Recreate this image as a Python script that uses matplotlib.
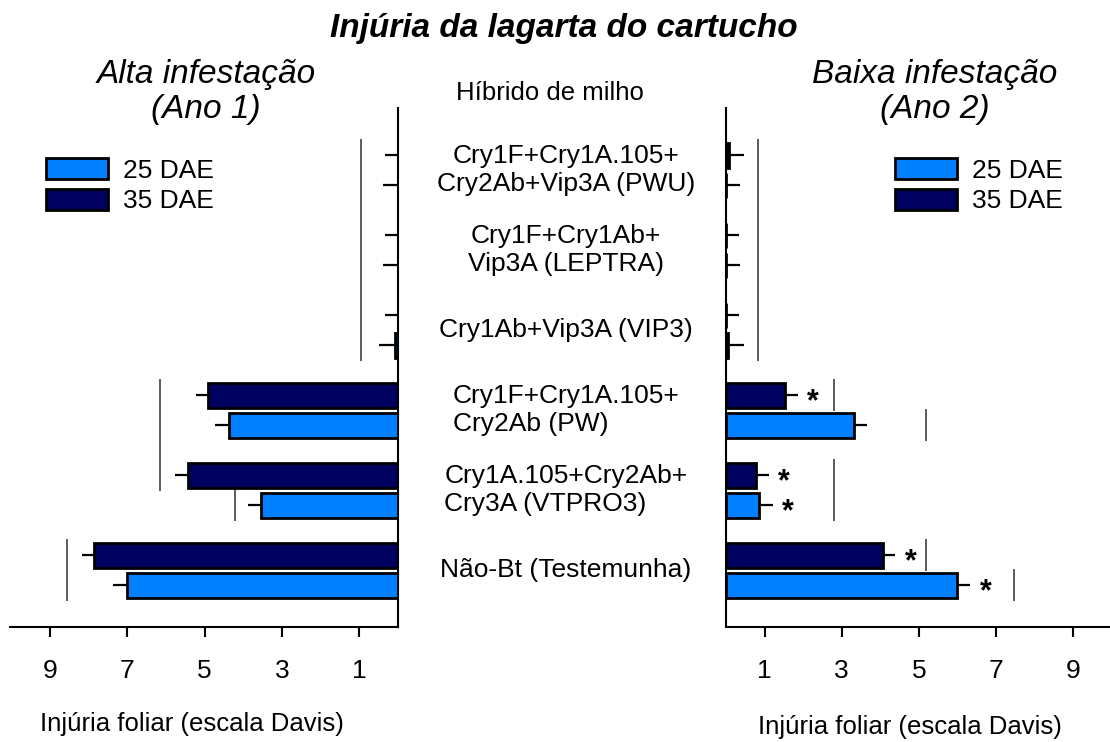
import matplotlib
matplotlib.use("Agg")
import matplotlib.pyplot as plt
import matplotlib.transforms as mtransforms
from matplotlib.patches import Patch

plt.rcParams['font.family'] = ['Liberation Sans', 'DejaVu Sans']

# categories, top to bottom
hybrids = ["PWU", "LEPTRA", "VIP3", "PW", "VTPRO3", "Não-Bt"]
hybrid_labels = [
    "Cry1F+Cry1A.105+\nCry2Ab+Vip3A (PWU)",
    "Cry1F+Cry1Ab+\nVip3A (LEPTRA)",
    "Cry1Ab+Vip3A (VIP3)",
    "Cry1F+Cry1A.105+\nCry2Ab (PW)",
    "Cry1A.105+Cry2Ab+\nCry3A (VTPRO3)",
    "Não-Bt (Testemunha)",
]
label_align = ["center", "center", "center", "left", "left", "center"]

# Ano 1 - alta infestacao
ano1_25 = [0.0, 0.0, 0.08, 4.37, 3.54, 7.01]
ano1_25_err = [0.39, 0.39, 0.42, 0.37, 0.35, 0.36]
ano1_35 = [0.0, 0.0, 0.0, 4.92, 5.43, 7.86]
ano1_35_err = [0.34, 0.34, 0.34, 0.31, 0.33, 0.32]

# Ano 2 - baixa infestacao
ano2_25 = [0.0, 0.0, 0.05, 3.31, 0.85, 5.98]
ano2_25_err = [0.36, 0.36, 0.42, 0.35, 0.36, 0.35]
ano2_35 = [0.07, 0.0, 0.0, 1.54, 0.78, 4.07]
ano2_35_err = [0.40, 0.34, 0.34, 0.32, 0.33, 0.32]
ano2_25_sig = [False, False, False, False, True, True]
ano2_35_sig = [False, False, False, True, True, True]

# DMS lines: value, first bar, last bar
dms1_val = [0.96, 6.15, 4.21, 8.56]
dms1_from = ["PWU 35", "PW 35", "VTPRO3 25", "Não-Bt 35"]
dms1_to = ["VIP3 25", "VTPRO3 35", "VTPRO3 25", "Não-Bt 25"]
dms2_val = [0.84, 2.79, 5.17, 2.79, 5.17, 7.46]
dms2_from = ["PWU 35", "PW 35", "PW 25", "VTPRO3 35", "Não-Bt 35", "Não-Bt 25"]
dms2_to = ["VIP3 25", "PW 35", "PW 25", "VTPRO3 25", "Não-Bt 35", "Não-Bt 25"]

xticks = [1, 3, 5, 7, 9]

c25 = "#0080ff"
c35 = "#000060"
off = 0.1875
bh = 0.3125

n = len(hybrids)
ypos = [n - 1 - i for i in range(n)]
y25 = [y - off for y in ypos]
y35 = [y + off for y in ypos]
bar_y = {}
for i, h in enumerate(hybrids):
    bar_y[h + " 25"] = y25[i]
    bar_y[h + " 35"] = y35[i]

W, H = 1110, 742
fig = plt.figure(figsize=(W / 100, H / 100), dpi=100)
axL = fig.add_axes([10 / W, 115 / H, 388 / W, 519 / H])
axR = fig.add_axes([726 / W, 115 / H, 384 / W, 519 / H])


def draw(ax, v25, e25, v35, e35, dv, dfrom, dto):
    ax.barh(y35, v35, height=bh, color=c35, edgecolor="black", linewidth=2, zorder=3)
    ax.barh(y25, v25, height=bh, color=c25, edgecolor="black", linewidth=2, zorder=3)
    ax.errorbar(v35, y35, xerr=[[0] * n, e35], fmt="none", ecolor="black",
                elinewidth=1.6, capsize=0, zorder=2)
    ax.errorbar(v25, y25, xerr=[[0] * n, e25], fmt="none", ecolor="black",
                elinewidth=1.6, capsize=0, zorder=2)
    for v, a, b in zip(dv, dfrom, dto):
        ax.vlines(v, bar_y[b] - 0.2, bar_y[a] + 0.2, color="#303030", linewidth=1.1)
    ax.set_ylim(-0.7125, 5.775)
    ax.set_yticks([])
    ax.set_xticks(xticks)
    ax.tick_params(axis="x", direction="out", length=7, width=1.5, pad=16, labelsize=19)
    for s in ax.spines.values():
        s.set_linewidth(1.5)
    ax.spines["top"].set_visible(False)
    ax.set_xlabel("Injúria foliar (escala Davis)", fontsize=18.5)


draw(axL, ano1_25, ano1_25_err, ano1_35, ano1_35_err, dms1_val, dms1_from, dms1_to)
draw(axR, ano2_25, ano2_25_err, ano2_35, ano2_35_err, dms2_val, dms2_from, dms2_to)

axL.set_xlim(10.03, 0)
axL.spines["left"].set_visible(False)
axR.set_xlim(0, 9.95)
axR.spines["right"].set_visible(False)
axL.xaxis.set_label_coords(0.469, -0.163)
axR.xaxis.set_label_coords(0.479, -0.169)

# significance marks
for vals, errs, sig, ys in [(ano2_25, ano2_25_err, ano2_25_sig, y25),
                            (ano2_35, ano2_35_err, ano2_35_sig, y35)]:
    for v, e, s, y in zip(vals, errs, sig, ys):
        if s:
            axR.text(v + e + 0.4, y - 0.09, "*", fontsize=22, fontweight="bold",
                     ha="center", va="center")

# hybrid names in the middle
tr = mtransforms.blended_transform_factory(fig.transFigure, axL.transData)
for lab, y, al in zip(hybrid_labels, ypos, label_align):
    fig.text(566 / W, y, lab, transform=tr, ha="center", va="center",
             multialignment=al, fontsize=19, linespacing=1.22)

fig.text(550 / W, 1 - 93 / H, "Híbrido de milho", ha="center", va="center", fontsize=18.5)
fig.text(564 / W, 1 - 28 / H, "Injúria da lagarta do cartucho", ha="center", va="center",
         fontsize=24, fontweight="bold", fontstyle="italic")
fig.text(206 / W, 1 - 92 / H, "Alta infestação\n(Ano 1)", ha="center", va="center",
         fontsize=24, fontstyle="italic", linespacing=1.15)
fig.text(935 / W, 1 - 92 / H, "Baixa infestação\n(Ano 2)", ha="center", va="center",
         fontsize=24, fontstyle="italic", linespacing=1.15)

handles = [Patch(facecolor=c25, edgecolor="black", linewidth=2, label="25 DAE"),
           Patch(facecolor=c35, edgecolor="black", linewidth=2, label="35 DAE")]
for x in [46 / W, 895 / W]:
    fig.legend(handles=handles, loc="upper left", bbox_to_anchor=(x, 1 - 158 / H),
               frameon=False, fontsize=19, handlelength=2.35, handleheight=0.87,
               handletextpad=0.55, labelspacing=0.22, borderpad=0, borderaxespad=0)

fig.savefig("out.png", dpi=100)
